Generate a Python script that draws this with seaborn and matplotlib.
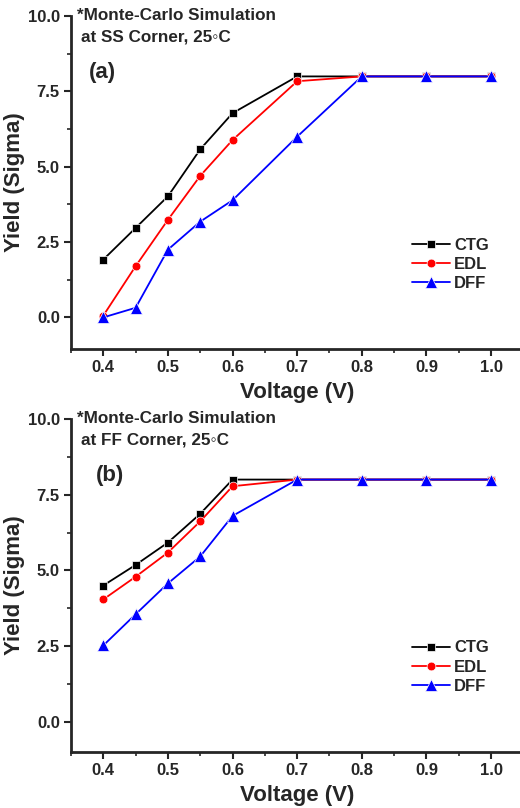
import pandas as pd
import matplotlib
matplotlib.use("Agg")
import matplotlib.pyplot as plt
from matplotlib.ticker import MultipleLocator
import seaborn as sns

# Data
voltage = [0.4, 0.45, 0.5, 0.55, 0.6, 0.7, 0.8, 0.9, 1.0]
series_names = ["CTG", "EDL", "DFF"]

ss_ctg = [1.92, 2.97, 4.02, 5.58, 6.78, 8.0, 8.0, 8.0, 8.0]
ss_edl = [0.06, 1.70, 3.24, 4.70, 5.89, 7.84, 8.0, 8.0, 8.0]
ss_dff = [0.0, 0.32, 2.25, 3.18, 3.89, 6.0, 8.0, 8.0, 8.0]

ff_ctg = [4.50, 5.18, 5.92, 6.87, 8.0, 8.0, 8.0, 8.0, 8.0]
ff_edl = [4.04, 4.79, 5.59, 6.62, 7.78, 8.0, 8.0, 8.0, 8.0]
ff_dff = [2.52, 3.55, 4.57, 5.46, 6.80, 8.0, 8.0, 8.0, 8.0]

x_ticks = [0.4, 0.5, 0.6, 0.7, 0.8, 0.9, 1.0]
y_ticks = [0.0, 2.5, 5.0, 7.5, 10.0]


def to_long(ctg, edl, dff):
    rows = []
    for name, vals in zip(series_names, [ctg, edl, dff]):
        for v, y in zip(voltage, vals):
            rows.append({"Voltage": v, "Yield": y, "Series": name})
    return pd.DataFrame(rows)


sns.set_style("ticks")
plt.rcParams["font.family"] = ["Liberation Sans", "DejaVu Sans"]
plt.rcParams["font.weight"] = "bold"

palette = {"CTG": "black", "EDL": "#ff0000", "DFF": "#0000ff"}
markers = {"CTG": "s", "EDL": "o", "DFF": "^"}

fig = plt.figure(figsize=(5.2, 8.08), dpi=100)
ax_top = fig.add_axes([0.1365, 0.568, 0.87, 0.412])
ax_bot = fig.add_axes([0.1365, 0.0693, 0.87, 0.4121])

panels = [
    (ax_top, to_long(ss_ctg, ss_edl, ss_dff), "SS", "(a)", -1.05, 0.04),
    (ax_bot, to_long(ff_ctg, ff_edl, ff_dff), "FF", "(b)", -1.0, 0.055),
]

for ax, df, corner, tag, ymin, tag_x in panels:
    sns.lineplot(data=df, x="Voltage", y="Yield", hue="Series", style="Series",
                 palette=palette, markers=markers, dashes=False, ax=ax,
                 linewidth=1.3, markersize=6.3, markeredgewidth=0.5)
    # triangles look larger in the original
    for ln in ax.get_lines():
        if ln.get_marker() == "^":
            ln.set_markersize(8)
    ax.set_xlim(0.35, 1.05)
    ax.set_ylim(ymin, 10.0)
    ax.set_xticks(x_ticks)
    ax.set_yticks(y_ticks)
    ax.xaxis.set_minor_locator(MultipleLocator(0.05))
    ax.yaxis.set_minor_locator(MultipleLocator(1.25))
    ax.set_xticklabels([f"{t:.1f}" for t in x_ticks], fontsize=12, fontweight="bold")
    ax.set_yticklabels([f"{t:.1f}" for t in y_ticks], fontsize=12, fontweight="bold")
    ax.tick_params(which="major", direction="out", length=5, width=1.5, pad=3)
    ax.tick_params(which="minor", direction="out", length=3, width=1.2)
    for side in ["top", "right"]:
        ax.spines[side].set_visible(False)
    for side in ["left", "bottom"]:
        ax.spines[side].set_linewidth(2)
    ax.set_xlabel("Voltage (V)", fontsize=16, fontweight="bold", labelpad=5)
    ax.set_ylabel("Yield (Sigma)", fontsize=16, fontweight="bold", labelpad=2)

    ax.text(0.013, 1.003, "*Monte-Carlo Simulation", transform=ax.transAxes,
            fontsize=12.3, fontweight="bold", va="center", ha="left")
    ax.text(0.022, 0.937, f"at {corner} Corner, 25\u25e6C", transform=ax.transAxes,
            fontsize=12.3, fontweight="bold", va="center", ha="left")
    ax.text(tag_x, 0.83, tag, transform=ax.transAxes,
            fontsize=16, fontweight="bold", va="center", ha="left")

    leg = ax.legend(loc="center left", bbox_to_anchor=(0.72, 0.255), frameon=False,
                    fontsize=12, handlelength=2.3, handletextpad=0.25,
                    labelspacing=0.25, title=None)
    for t in leg.get_texts():
        t.set_fontweight("bold")
    for h in leg.legend_handles:
        if h.get_marker() == "^":
            h.set_markersize(8)

fig.savefig("out.png", dpi=100)
